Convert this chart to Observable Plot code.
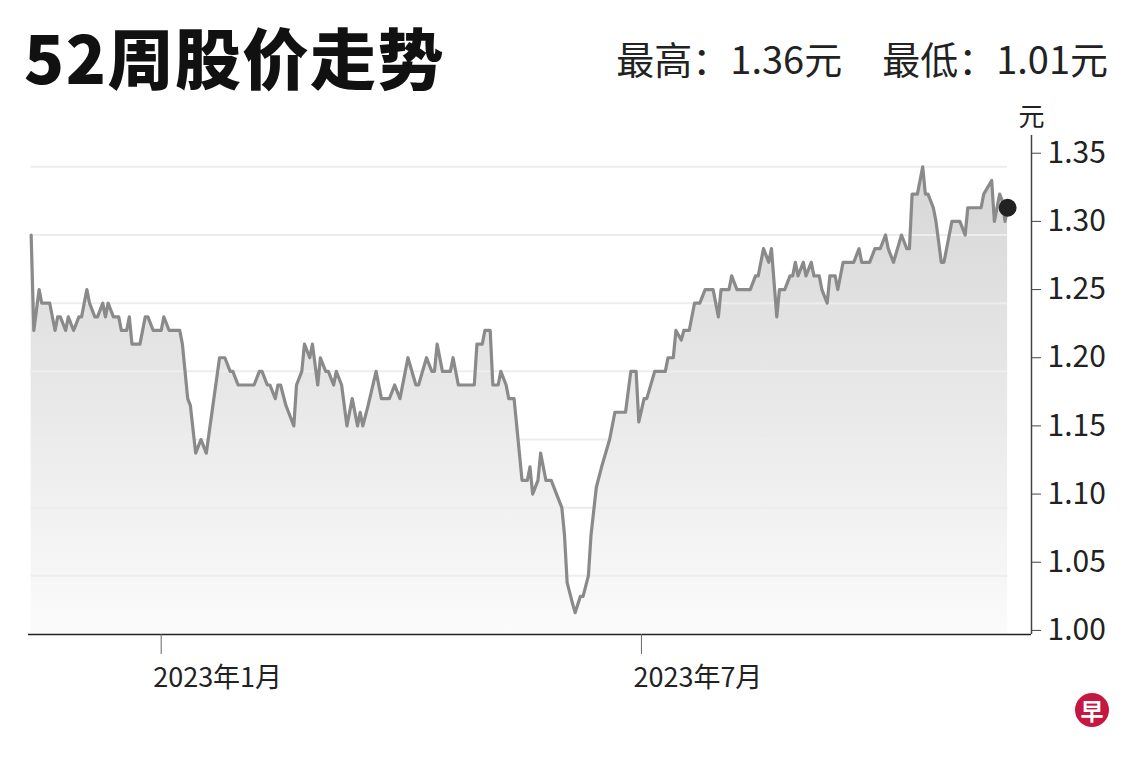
<!DOCTYPE html>
<html><head><meta charset="utf-8">
<script src="https://cdn.jsdelivr.net/npm/d3@7"></script>
<script src="https://cdn.jsdelivr.net/npm/@observablehq/plot@0.6"></script>
<style>
body{margin:0;background:#fff;font-family:"Noto Sans CJK SC","Noto Sans",sans-serif;}
#wrap{position:relative;width:1140px;height:760px;overflow:hidden;background:#fff;}
#title{position:absolute;left:24px;top:22px;font-size:66px;font-weight:900;color:#111;line-height:1;white-space:nowrap;letter-spacing:1.5px;}
#stats{position:absolute;right:32px;top:39px;font-size:38px;color:#222;line-height:1;white-space:nowrap;}
#stats span+span{margin-left:40px;}
#chart{position:absolute;left:0;top:100px;}
#logo{position:absolute;left:1075px;top:693px;width:34px;height:34px;border-radius:50%;background:#c5173f;color:#fff;font-size:23px;font-weight:700;text-align:center;line-height:34px;}
</style></head>
<body>
<div id="wrap">
  <div id="title">52周股价走势</div>
  <div id="stats"><span>最高：1.36元</span><span>最低：1.01元</span></div>
  <div id="chart"></div>
  <div id="logo">早</div>
</div>
<script>
const dates = [
"2022-11-13","2022-11-14","2022-11-16","2022-11-17","2022-11-20","2022-11-22","2022-11-23","2022-11-24","2022-11-26","2022-11-27",
"2022-11-29","2022-12-01","2022-12-02","2022-12-04","2022-12-05","2022-12-07","2022-12-08","2022-12-10","2022-12-11","2022-12-12",
"2022-12-14","2022-12-16","2022-12-17","2022-12-19","2022-12-20","2022-12-21","2022-12-24","2022-12-26","2022-12-27","2022-12-29",
"2023-01-01","2023-01-02","2023-01-04","2023-01-08","2023-01-09","2023-01-10","2023-01-11","2023-01-12","2023-01-14","2023-01-16",
"2023-01-18","2023-01-23","2023-01-25","2023-01-27","2023-01-28","2023-01-30","2023-02-05","2023-02-07","2023-02-08","2023-02-10",
"2023-02-11","2023-02-13","2023-02-14","2023-02-15","2023-02-17","2023-02-18","2023-02-20","2023-02-21","2023-02-23","2023-02-24",
"2023-02-26","2023-02-27","2023-03-01","2023-03-02","2023-03-04","2023-03-05","2023-03-07","2023-03-08","2023-03-10","2023-03-12",
"2023-03-14","2023-03-16","2023-03-17","2023-03-18","2023-03-20","2023-03-23","2023-03-25","2023-03-28","2023-03-30","2023-04-01",
"2023-04-04","2023-04-07","2023-04-08","2023-04-11","2023-04-13","2023-04-14","2023-04-15","2023-04-17","2023-04-20","2023-04-21",
"2023-04-23","2023-04-29","2023-04-30","2023-05-02","2023-05-03","2023-05-05","2023-05-06","2023-05-08","2023-05-09","2023-05-11",
"2023-05-12","2023-05-14","2023-05-16","2023-05-17","2023-05-19","2023-05-20","2023-05-21","2023-05-23","2023-05-24","2023-05-26",
"2023-05-28","2023-05-30","2023-06-01","2023-06-02","2023-06-03","2023-06-05","2023-06-06","2023-06-08","2023-06-09","2023-06-11",
"2023-06-12","2023-06-14","2023-06-16","2023-06-19","2023-06-21","2023-06-25","2023-06-27","2023-06-29","2023-06-30","2023-07-02",
"2023-07-03","2023-07-06","2023-07-10","2023-07-11","2023-07-13","2023-07-14","2023-07-16","2023-07-17","2023-07-19","2023-07-21",
"2023-07-23","2023-07-25","2023-07-28","2023-07-30","2023-07-31","2023-08-03","2023-08-04","2023-08-06","2023-08-11","2023-08-13",
"2023-08-14","2023-08-16","2023-08-18","2023-08-19","2023-08-21","2023-08-22","2023-08-24","2023-08-26","2023-08-27","2023-08-28",
"2023-08-29","2023-08-31","2023-09-01","2023-09-03","2023-09-04","2023-09-06","2023-09-07","2023-09-09","2023-09-10","2023-09-12",
"2023-09-13","2023-09-15","2023-09-19","2023-09-21","2023-09-22","2023-09-25","2023-09-27","2023-09-29","2023-10-01","2023-10-02",
"2023-10-04","2023-10-07","2023-10-09","2023-10-10","2023-10-11","2023-10-13","2023-10-15","2023-10-16","2023-10-17","2023-10-19",
"2023-10-20","2023-10-22","2023-10-23","2023-10-26","2023-10-29","2023-10-31","2023-11-01","2023-11-06","2023-11-07","2023-11-10",
"2023-11-11","2023-11-13","2023-11-14","2023-11-15","2023-11-16"
];
const prices = [
1.29,1.22,1.25,1.24,1.24,1.22,1.23,1.23,1.22,1.23,
1.22,1.23,1.23,1.25,1.24,1.23,1.23,1.24,1.23,1.24,
1.23,1.23,1.22,1.22,1.23,1.21,1.21,1.23,1.23,1.22,
1.22,1.23,1.22,1.22,1.21,1.19,1.17,1.165,1.13,1.14,
1.13,1.20,1.20,1.19,1.19,1.18,1.18,1.19,1.19,1.18,
1.18,1.17,1.18,1.18,1.165,1.16,1.15,1.18,1.19,1.21,
1.20,1.21,1.18,1.20,1.19,1.19,1.18,1.19,1.18,1.15,
1.17,1.15,1.16,1.15,1.165,1.19,1.17,1.17,1.18,1.17,
1.20,1.18,1.18,1.20,1.19,1.19,1.21,1.19,1.19,1.20,
1.18,1.18,1.21,1.21,1.22,1.22,1.18,1.18,1.19,1.18,
1.17,1.17,1.13,1.11,1.11,1.12,1.10,1.11,1.13,1.11,
1.11,1.10,1.09,1.07,1.035,1.02,1.013,1.025,1.025,1.04,
1.07,1.105,1.12,1.14,1.16,1.16,1.19,1.19,1.153,1.17,
1.17,1.19,1.19,1.20,1.20,1.22,1.213,1.22,1.22,1.24,
1.24,1.25,1.25,1.23,1.25,1.25,1.26,1.25,1.25,1.26,
1.26,1.28,1.27,1.28,1.23,1.25,1.25,1.26,1.26,1.27,
1.26,1.27,1.26,1.27,1.26,1.26,1.25,1.24,1.26,1.26,
1.25,1.27,1.27,1.28,1.27,1.27,1.28,1.28,1.29,1.28,
1.27,1.29,1.28,1.28,1.32,1.32,1.34,1.32,1.32,1.31,
1.30,1.27,1.27,1.30,1.30,1.29,1.31,1.31,1.32,1.33,
1.30,1.32,1.315,1.30,1.31
];
const yTicks = [1.00, 1.05, 1.10, 1.15, 1.20, 1.25, 1.30, 1.35];
const gridValues = [1.04, 1.09, 1.14, 1.19, 1.24, 1.29, 1.34];
const xTicks = ["2023-01-01", "2023-07-01"];
const xDomain = ["2022-11-12", "2023-11-25"];
const yDomain = [0.997, 1.363];
const unitLabel = "元";

const data = dates.map((d, i) => ({date: new Date(d), price: prices[i]}));
const last = data[data.length - 1];
const xDom = xDomain.map(d => new Date(d));
const xTickDates = xTicks.map(d => new Date(d));

const W = 1140, H = 660, mT = 35, mB = 126, mL = 28, mR = 109;

function gradientDefs() {
  const ns = "http://www.w3.org/2000/svg";
  const defs = document.createElementNS(ns, "defs");
  const lg = document.createElementNS(ns, "linearGradient");
  lg.setAttribute("id", "areaGrad");
  lg.setAttribute("gradientUnits", "userSpaceOnUse");
  lg.setAttribute("x1", 0); lg.setAttribute("x2", 0);
  lg.setAttribute("y1", mT); lg.setAttribute("y2", H - mB);
  [["0", "#d4d4d4"], ["0.55", "#e9e9e9"], ["1", "#fbfbfb"]].forEach(([o, c]) => {
    const s = document.createElementNS(ns, "stop");
    s.setAttribute("offset", o); s.setAttribute("stop-color", c);
    lg.appendChild(s);
  });
  defs.appendChild(lg);
  return defs;
}

const fmtMonth = d => `${d.getUTCFullYear()}年${d.getUTCMonth() + 1}月`;

const chart = Plot.plot({
  width: W, height: H,
  marginTop: mT, marginBottom: mB, marginLeft: mL, marginRight: mR,
  style: {background: "transparent", overflow: "visible", fontFamily: '"Noto Sans CJK SC","Noto Sans",sans-serif', color: "#222"},
  x: {type: "utc", domain: xDom},
  y: {domain: yDomain},
  marks: [
    gradientDefs,
    Plot.areaY(data, {x: "date", y1: yDomain[0], y2: "price", fill: "url(#areaGrad)"}),
    Plot.ruleY(gridValues, {x1: data[0].date, x2: last.date, stroke: "#ededed", strokeWidth: 2}),
    Plot.lineY(data, {x: "date", y: "price", stroke: "#8a8a8a", strokeWidth: 3.2, strokeLinejoin: "round"}),
    Plot.dot([last], {x: "date", y: "price", r: 9, fill: "#222", stroke: "none"}),
    Plot.ruleY([yDomain[0]], {stroke: "#222", strokeWidth: 1.5}),
    Plot.ruleX([xDom[1]], {stroke: "#444", strokeWidth: 1.5}),
    Plot.axisY({anchor: "right", ticks: yTicks, tickFormat: d => d.toFixed(2), tickSize: 9, tickPadding: 7, fontSize: 30, label: null, stroke: "#444"}),
    Plot.axisX({ticks: xTickDates, tickFormat: () => "", tickSize: 20, label: null, stroke: "#666"}),
    Plot.axisX({ticks: xTickDates, tickFormat: fmtMonth, tickSize: 0, tickPadding: 33, textAnchor: "start", dx: -8, fontSize: 27, label: null}),
    Plot.text([unitLabel], {frameAnchor: "top-right", text: d => d, dy: -18, textAnchor: "middle", lineAnchor: "middle", fontSize: 26, fill: "#222"})
  ]
});
document.getElementById("chart").appendChild(chart);
</script>
</body></html>
